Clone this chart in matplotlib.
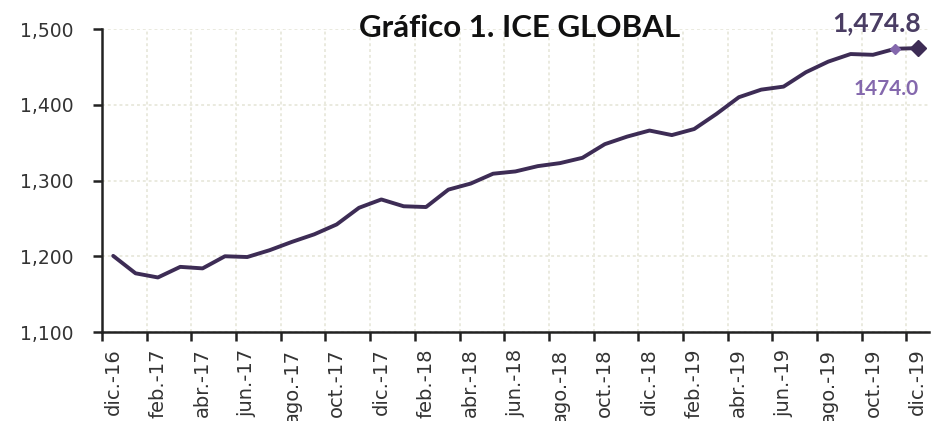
import matplotlib
matplotlib.use("Agg")
import matplotlib.pyplot as plt
from matplotlib.ticker import FuncFormatter, FixedLocator

months = ["dic.-16", "ene.-17", "feb.-17", "mar.-17", "abr.-17", "may.-17", "jun.-17", "jul.-17",
          "ago.-17", "sep.-17", "oct.-17", "nov.-17", "dic.-17", "ene.-18", "feb.-18", "mar.-18",
          "abr.-18", "may.-18", "jun.-18", "jul.-18", "ago.-18", "sep.-18", "oct.-18", "nov.-18",
          "dic.-18", "ene.-19", "feb.-19", "mar.-19", "abr.-19", "may.-19", "jun.-19", "jul.-19",
          "ago.-19", "sep.-19", "oct.-19", "nov.-19", "dic.-19"]
ice_global = [1200.5, 1177.5, 1172.0, 1186.0, 1184.0, 1200.0, 1199.0, 1208.0, 1219.0, 1229.0,
              1242.0, 1264.0, 1275.0, 1266.0, 1265.0, 1288.0, 1296.0, 1309.0, 1312.0, 1319.0,
              1323.0, 1330.0, 1348.0, 1358.0, 1366.0, 1360.0, 1368.0, 1388.0, 1410.0, 1420.0,
              1424.0, 1443.0, 1457.0, 1467.0, 1466.0, 1474.0, 1474.8]
y_ticks = [1100, 1200, 1300, 1400, 1500]
title = "Gráfico 1. ICE GLOBAL"
last_label = "1,474.8"
prev_label = "1474.0"

line_col = "#3d2c55"
light_col = "#8468ad"

fig = plt.figure(figsize=(9.42, 4.21), dpi=100)
ax = fig.add_axes([0.1083, 0.2114, 0.8777, 0.7196])

x = list(range(len(ice_global)))
ax.plot(x, ice_global, color=line_col, lw=2.8, solid_capstyle="round", zorder=3)
ax.plot(x[-2], ice_global[-2], marker="D", ms=5.5, color=light_col, zorder=4)
ax.plot(x[-1], ice_global[-1], marker="D", ms=8, color=line_col, zorder=4)

ax.set_xlim(-0.5, len(ice_global) - 0.5)
ax.set_ylim(y_ticks[0], y_ticks[-1])

# ticks between categories, labels on every other category
ax.xaxis.set_major_locator(FixedLocator([i - 0.5 for i in range(0, len(ice_global), 2)]))
ax.xaxis.set_minor_locator(FixedLocator(list(range(0, len(ice_global), 2))))
ax.set_xticklabels([])
ax.set_xticklabels([months[i] for i in range(0, len(ice_global), 2)], minor=True,
                   rotation=90, fontsize=14, color="#333333", va="top")
ax.tick_params(axis="x", which="major", length=6.5, width=1.8, color="#222222", direction="out")
ax.tick_params(axis="x", which="minor", length=0, pad=12)

ax.set_yticks(y_ticks)
ax.yaxis.set_major_formatter(FuncFormatter(lambda v, p: f"{int(v):,}"))
ax.tick_params(axis="y", length=6.5, width=1.8, color="#222222", labelsize=13.5,
               labelcolor="#333333", pad=14)

ax.grid(True, which="major", color="#eaeadf", linestyle=(0, (1.5, 1.5)), lw=1.4, zorder=0)

for s in ["top", "right"]:
    ax.spines[s].set_visible(False)
for s in ["left", "bottom"]:
    ax.spines[s].set_linewidth(1.8)
    ax.spines[s].set_color("#222222")

fig.text(0.552, 0.933, title, ha="center", va="center",
         fontsize=22.5, fontweight="bold", family="Lato", color="#111111")

ax.annotate(last_label, (x[-1], ice_global[-1]), xytext=(2, 9), textcoords="offset points",
            ha="right", va="bottom", fontsize=19, fontweight="bold", family="Lato",
            color="#4a3d63")
ax.annotate(prev_label, (x[-2], ice_global[-2]), xytext=(17, -29), textcoords="offset points",
            ha="right", va="center", fontsize=15, fontweight="bold", family="Lato",
            color=light_col)

fig.savefig("out.png", dpi=100)
